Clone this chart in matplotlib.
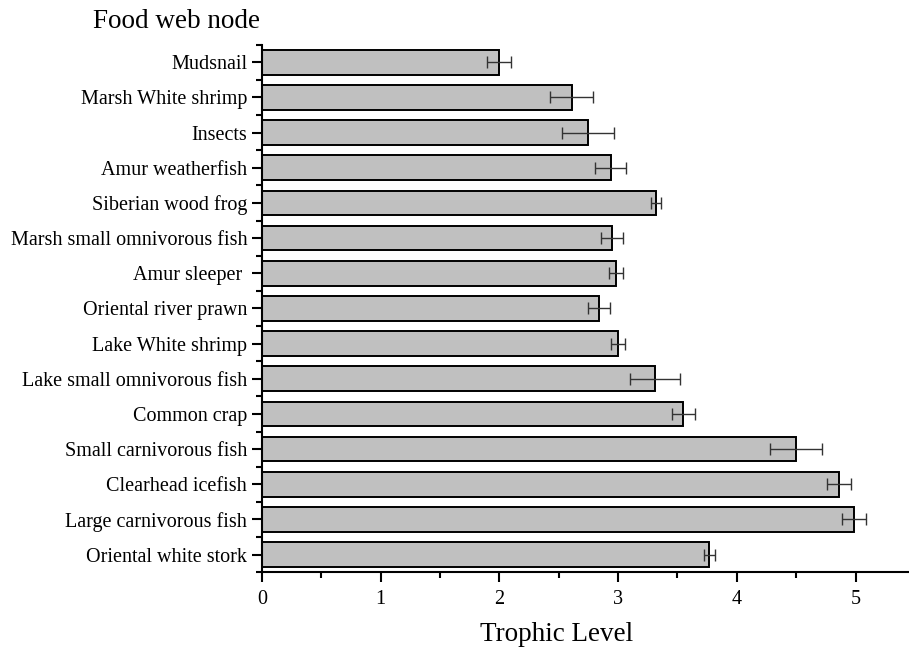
import numpy as np
import matplotlib.pyplot as plt
from matplotlib.ticker import MultipleLocator, FixedLocator

plt.rcParams['font.family'] = ['Liberation Serif', 'DejaVu Serif']

nodes = ['Mudsnail', 'Marsh White shrimp', 'Insects', 'Amur weatherfish',
         'Siberian wood frog', 'Marsh small omnivorous fish', 'Amur sleeper ',
         'Oriental river prawn', 'Lake White shrimp', 'Lake small omnivorous fish',
         'Common crap', 'Small carnivorous fish', 'Clearhead icefish',
         'Large carnivorous fish', 'Oriental white stork']
trophic = [2.00, 2.61, 2.75, 2.94, 3.32, 2.95, 2.98, 2.84, 3.00, 3.31,
           3.55, 4.50, 4.86, 4.99, 3.77]
err = [0.10, 0.18, 0.22, 0.13, 0.04, 0.095, 0.06, 0.09, 0.06, 0.21,
       0.095, 0.22, 0.10, 0.10, 0.05]

fig = plt.figure(figsize=(9.09, 6.48), dpi=100)
ax = fig.add_axes([0.288, 0.117, 0.712, 0.814])

y = np.arange(len(nodes))
ax.barh(y, trophic, height=0.7, color='#c0c0c0', edgecolor='black', linewidth=1.4,
        xerr=err, error_kw=dict(ecolor='#333333', elinewidth=1.0, capsize=4, capthick=1.0))

ax.set_ylim(len(nodes) - 0.5, -0.5)
ax.set_xlim(0, 5.45)
ax.set_yticks(y)
ax.set_yticklabels(nodes, fontsize=14.5)
ax.yaxis.set_minor_locator(FixedLocator(np.arange(-0.5, len(nodes), 1)))
ax.xaxis.set_major_locator(MultipleLocator(1))
ax.xaxis.set_minor_locator(MultipleLocator(0.5))
ax.tick_params(axis='x', labelsize=14.5, pad=6)
ax.tick_params(which='major', length=7, width=1.5, direction='out')
ax.tick_params(which='minor', length=4, width=1.5, direction='out')

for s in ['top', 'right']:
    ax.spines[s].set_visible(False)
for s in ['left', 'bottom']:
    ax.spines[s].set_linewidth(1.5)

ax.set_xlabel('Trophic Level', fontsize=19.5)
ax.xaxis.set_label_coords(0.456, -0.094)
fig.text(0.194, 0.967, 'Food web node', fontsize=19.5, ha='center', va='center')

fig.savefig('out.png', dpi=100)
